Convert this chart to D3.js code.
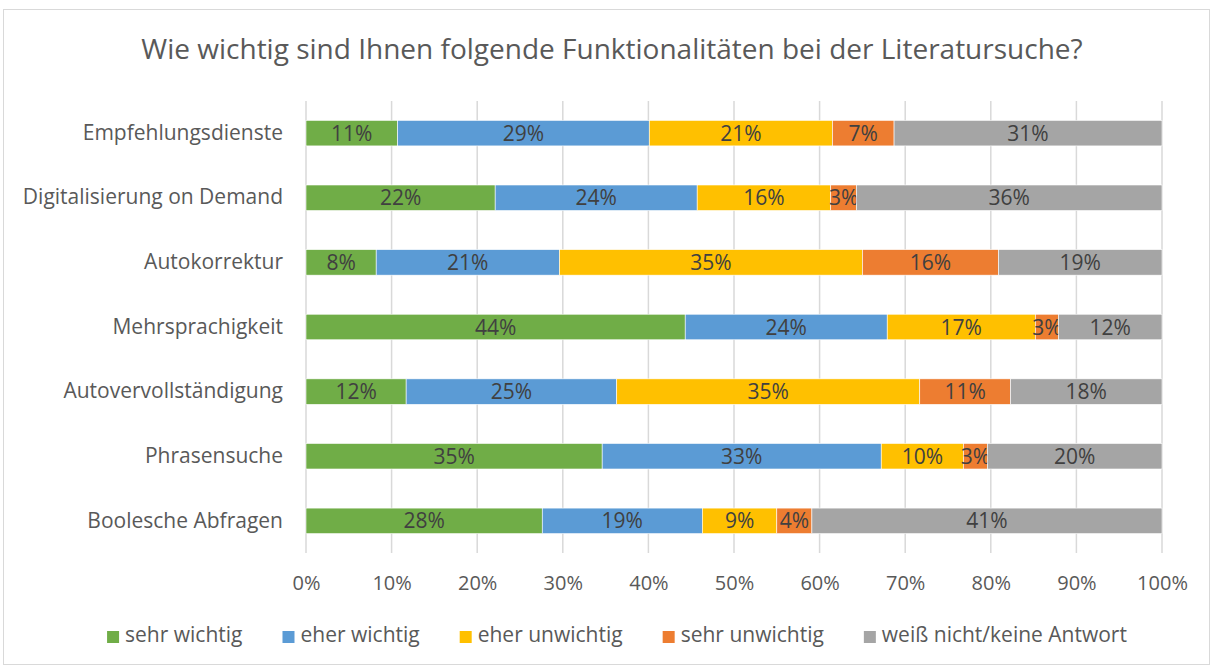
<!DOCTYPE html>
<html>
<head>
<meta charset="utf-8">
<script src="https://cdn.jsdelivr.net/npm/d3@7"></script>
<style>
  body { margin: 0; background: #fff; }
  svg { display: block; font-family: "Open Sans", sans-serif; }
</style>
</head>
<body>
<svg id="chart"></svg>
<script>
const categories = ["Empfehlungsdienste", "Digitalisierung on Demand", "Autokorrektur",
  "Mehrsprachigkeit", "Autovervollständigung", "Phrasensuche", "Boolesche Abfragen"];
const seriesNames = ["sehr wichtig", "eher wichtig", "eher unwichtig", "sehr unwichtig", "weiß nicht/keine Antwort"];
const sehrWichtig    = [10.7, 22.1,  8.2, 44.3, 11.7, 34.6, 27.6];
const eherWichtig    = [29.4, 23.6, 21.4, 23.6, 24.6, 32.6, 18.7];
const eherUnwichtig  = [21.4, 15.6, 35.4, 17.3, 35.4,  9.6,  8.7];
const sehrUnwichtig  = [ 7.2,  3.0, 15.9,  2.7, 10.6,  2.8,  4.1];
const weissNicht     = [31.3, 35.7, 19.1, 12.1, 17.7, 20.4, 40.9];
const tickValues = [0, 10, 20, 30, 40, 50, 60, 70, 80, 90, 100];
const colors = ["#70AD47", "#5B9BD5", "#FFC000", "#ED7D31", "#A5A5A5"];

function makeChart() {
  const W = 1213, H = 669;
  const svg = d3.select("#chart").attr("width", W).attr("height", H);

  svg.append("rect")
    .attr("x", 3.5).attr("y", 9.5)
    .attr("width", W - 7).attr("height", H - 14)
    .attr("fill", "#fff").attr("stroke", "#d9d9d9");

  svg.append("text")
    .attr("x", 612).attr("y", 59)
    .attr("text-anchor", "middle")
    .attr("font-size", 28)
    .attr("fill", "#595959")
    .text("Wie wichtig sind Ihnen folgende Funktionalitäten bei der Literatursuche?");

  const left = 306, right = 1162, top = 101, bottom = 553;

  const x = d3.scaleLinear().domain([0, 100]).range([left, right]);
  const y = d3.scaleBand().domain(categories).range([top, bottom]).paddingInner(0.605).paddingOuter(0.3);

  // gridlines
  svg.append("g")
    .selectAll("line")
    .data(tickValues)
    .join("line")
    .attr("x1", d => x(d)).attr("x2", d => x(d))
    .attr("y1", top).attr("y2", bottom)
    .attr("stroke", "#d9d9d9")
    .attr("stroke-width", 1.5);

  const rows = categories.map((c, i) => ({
    cat: c,
    "sehr wichtig": sehrWichtig[i],
    "eher wichtig": eherWichtig[i],
    "eher unwichtig": eherUnwichtig[i],
    "sehr unwichtig": sehrUnwichtig[i],
    "weiß nicht/keine Antwort": weissNicht[i]
  }));

  const stacked = d3.stack().keys(seriesNames)(rows);

  const layers = svg.append("g")
    .selectAll("g")
    .data(stacked)
    .join("g")
    .attr("fill", (d, i) => colors[i]);

  layers.selectAll("rect")
    .data(d => d)
    .join("rect")
    .attr("x", d => x(d[0]))
    .attr("y", d => y(d.data.cat))
    .attr("width", d => x(d[1]) - x(d[0]))
    .attr("height", y.bandwidth())
    .attr("stroke", "#fff")
    .attr("stroke-width", 0.6);

  layers.selectAll("text")
    .data(d => d)
    .join("text")
    .attr("x", d => (x(d[0]) + x(d[1])) / 2)
    .attr("y", d => y(d.data.cat) + y.bandwidth() / 2)
    .attr("dy", "0.36em")
    .attr("text-anchor", "middle")
    .attr("font-size", 21)
    .attr("fill", "#404040")
    .text(d => Math.round(d[1] - d[0]) + "%");

  // category axis
  const yAxis = svg.append("g")
    .attr("transform", `translate(${left},0)`)
    .call(d3.axisLeft(y).tickSize(0).tickPadding(23));
  yAxis.select(".domain").remove();
  yAxis.selectAll("text")
    .attr("font-size", 21)
    .attr("font-family", "Open Sans, sans-serif")
    .attr("fill", "#595959");

  // value axis
  const xAxis = svg.append("g")
    .attr("transform", `translate(0,${bottom})`)
    .call(d3.axisBottom(x).tickValues(tickValues).tickSize(0).tickPadding(23).tickFormat(d => d + "%"));
  xAxis.select(".domain").remove();
  xAxis.selectAll("text")
    .attr("font-size", 20)
    .attr("font-family", "Open Sans, sans-serif")
    .attr("fill", "#595959");

  // legend
  const legend = svg.append("g");
  const items = legend.selectAll("g")
    .data(seriesNames)
    .join("g");
  items.append("rect")
    .attr("width", 12).attr("height", 12)
    .attr("y", -11)
    .attr("fill", (d, i) => colors[i]);
  items.append("text")
    .attr("x", 18)
    .attr("y", 0)
    .attr("font-size", 21)
    .attr("fill", "#595959")
    .text(d => d);

  let pos = 0;
  const offsets = [];
  items.each(function () {
    offsets.push(pos);
    const w = d3.select(this).select("text").node().getComputedTextLength();
    pos += 18 + w + 40;
  });
  const total = pos - 40;
  const start = 617 - total / 2;
  items.attr("transform", (d, i) => `translate(${start + offsets[i]},642)`);
}

makeChart();
</script>
</body>
</html>
